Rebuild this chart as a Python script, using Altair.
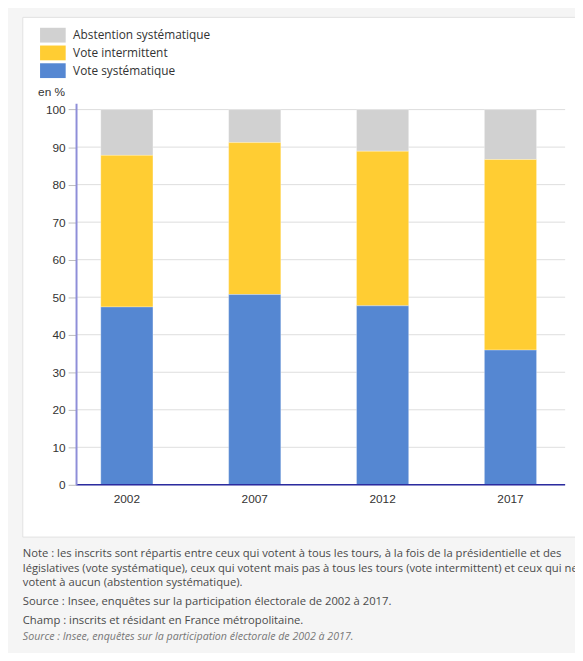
import altair as alt
import pandas as pd

# ---- data ----
years = ["2002", "2007", "2012", "2017"]
vote_systematique = [47.4, 50.7, 47.7, 35.9]
vote_intermittent = [40.4, 40.5, 41.2, 50.8]
abstention = [12.2, 8.8, 11.1, 13.3]

categories = ["Abstention systématique", "Vote intermittent", "Vote systématique"]
cat_colors = ["#d1d1d1", "#ffcd33", "#5587d2"]
stack_rank = {"Vote systématique": 0, "Vote intermittent": 1, "Abstention systématique": 2}
y_ticks = [0, 10, 20, 30, 40, 50, 60, 70, 80, 90, 100]

note_lines = [
    "Note : les inscrits sont répartis entre ceux qui votent à tous les tours, à la fois de la présidentielle et des",
    "législatives (vote systématique), ceux qui votent mais pas à tous les tours (vote intermittent) et ceux qui ne",
    "votent à aucun (abstention systématique).",
]
source_line = "Source : Insee, enquêtes sur la participation électorale de 2002 à 2017."
champ_line = "Champ : inscrits et résidant en France métropolitaine."
source_italic = "Source : Insee, enquêtes sur la participation électorale de 2002 à 2017."

rows = []
for i, yr in enumerate(years):
    for cat, vals in zip(categories, [abstention, vote_intermittent, vote_systematique]):
        rows.append({"annee": yr, "categorie": cat, "valeur": vals[i], "rang": stack_rank[cat]})
df = pd.DataFrame(rows)
grid_df = pd.DataFrame({"v": y_ticks})

W, H = 496, 387
yscale = alt.Scale(domain=[0, 101.7], nice=False)
y_axis = alt.Axis(values=y_ticks, grid=False, title="en %", titleAngle=0, titleAlign="left",
                  titleBaseline="alphabetic", titleX=-39, titleY=-8,
                  titleFont="Liberation Sans", titleFontSize=12, titleFontWeight="normal",
                  titleColor="#333333",
                  labelFont="Liberation Sans", labelFontSize=12, labelColor="#333333",
                  labelPadding=3, tickSize=8, tickColor="#bdbdbd",
                  domainColor="#8e8ed8", domainWidth=2, zindex=2)

panel = alt.Chart(alt.Data(values=[{}])).mark_rect(
    fill="white", stroke="#e2e2e2", strokeWidth=1
).encode(x=alt.value(-54), x2=alt.value(530), y=alt.value(-87), y2=alt.value(440))

grid = alt.Chart(grid_df).mark_rule(color="#dddddd", strokeWidth=1).encode(
    y=alt.Y("v:Q", scale=yscale, axis=y_axis),
    x=alt.value(0), x2=alt.value(W),
)

bars = alt.Chart(df).mark_bar(stroke="white", strokeWidth=0.6, strokeOpacity=0.5).encode(
    x=alt.X(
        "annee:N", sort=years,
        scale=alt.Scale(range=[-13.3, 505.4], paddingInner=0.592, paddingOuter=0.296),
        axis=alt.Axis(title=None, labelAngle=0, ticks=False, tickSize=0, domain=False, grid=False,
                      labelFont="Liberation Sans", labelFontSize=12, labelColor="#333333",
                      labelPadding=9, zindex=2),
    ),
    y=alt.Y("valeur:Q", stack="zero", scale=yscale, axis=y_axis),
    color=alt.Color(
        "categorie:N",
        scale=alt.Scale(domain=categories, range=cat_colors),
        legend=alt.Legend(title=None, orient="none", legendX=-31, legendY=-76.5, direction="vertical",
                          symbolType="M-1.733,-1H1.733V1H-1.733Z", symbolSize=225,
                          symbolStrokeWidth=0, symbolOpacity=1,
                          labelFont="Open Sans", labelFontSize=12, labelColor="#333333",
                          labelOffset=13, rowPadding=3, padding=0, zindex=2),
    ),
    order=alt.Order("rang:Q", sort="ascending"),
)

baseline = alt.Chart(alt.Data(values=[{"v": 0}])).mark_rule(color="#2b2ba0", strokeWidth=1.5).encode(
    y=alt.Y("v:Q", scale=yscale, axis=y_axis), x=alt.value(0), x2=alt.value(W)
)

txt = dict(align="left", font="Open Sans", fontSize=11.4, color="#4a4a4a", baseline="alphabetic")
note = alt.Chart(alt.Data(values=[{}])).mark_text(lineHeight=15, **txt).encode(
    x=alt.value(-54), y=alt.value(460), text=alt.value(note_lines))
src = alt.Chart(alt.Data(values=[{}])).mark_text(**txt).encode(
    x=alt.value(-54), y=alt.value(509), text=alt.value(source_line))
champ = alt.Chart(alt.Data(values=[{}])).mark_text(**txt).encode(
    x=alt.value(-54), y=alt.value(528), text=alt.value(champ_line))
src_it = alt.Chart(alt.Data(values=[{}])).mark_text(
    align="left", font="Open Sans", fontSize=10.8, fontStyle="italic", color="#777777", baseline="alphabetic"
).encode(x=alt.value(-54), y=alt.value(544), text=alt.value(source_italic))

chart = alt.layer(panel, grid, bars, baseline, note, src, champ, src_it).properties(
    width=W, height=H,
    autosize=alt.AutoSizeParams(type="none"),
    padding={"left": 69, "top": 92, "right": 10, "bottom": 166},
    background="#f5f5f5",
).configure_view(stroke=None)

chart.save("out.html", embed_options={"renderer": "svg", "actions": False})
